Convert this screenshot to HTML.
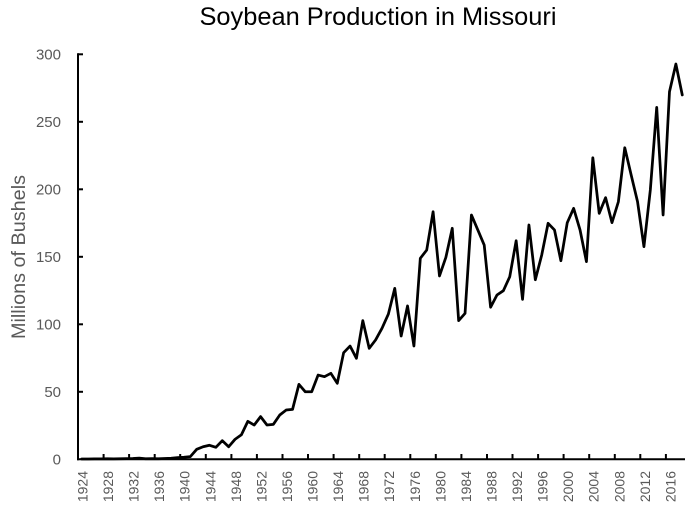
<!DOCTYPE html>
<html>
<head>
<meta charset="utf-8">
<style>
  html, body { margin: 0; padding: 0; background: #ffffff; }
  svg { display: block; }
  text { font-family: "Liberation Sans", "DejaVu Sans", sans-serif; }
</style>
</head>
<body>
<svg width="698" height="507" viewBox="0 0 698 507" xmlns="http://www.w3.org/2000/svg">
  <rect x="0" y="0" width="698" height="507" fill="#ffffff"/>

  <!-- Title -->
  <text x="378" y="25" font-size="25" fill="#000000" text-anchor="middle" textLength="357" lengthAdjust="spacingAndGlyphs">Soybean Production in Missouri</text>

  <!-- Y axis title -->
  <text transform="translate(25,257) rotate(-90)" font-size="19" fill="#595959" text-anchor="middle" textLength="164" lengthAdjust="spacingAndGlyphs">Millions of Bushels</text>

  <!-- Y tick labels -->
  <g font-size="15" fill="#595959" text-anchor="end">
    <text x="61" y="59.3">300</text>
    <text x="61" y="126.8">250</text>
    <text x="61" y="194.3">200</text>
    <text x="61" y="261.8">150</text>
    <text x="61" y="329.3">100</text>
    <text x="61" y="396.8">50</text>
    <text x="61" y="464.3">0</text>
  </g>

  <!-- Axes -->
  <g stroke="#000000" stroke-width="2" fill="none">
    <line x1="78" y1="53.3" x2="78" y2="460.3"/>
    <line x1="77" y1="459.3" x2="685" y2="459.3"/>
    <!-- y ticks -->
    <line x1="78" y1="54.3" x2="83" y2="54.3"/>
    <line x1="78" y1="121.8" x2="83" y2="121.8"/>
    <line x1="78" y1="189.3" x2="83" y2="189.3"/>
    <line x1="78" y1="256.8" x2="83" y2="256.8"/>
    <line x1="78" y1="324.3" x2="83" y2="324.3"/>
    <line x1="78" y1="391.8" x2="83" y2="391.8"/>
    <!-- x ticks -->
    <line x1="103.6" y1="459.3" x2="103.6" y2="454"/>
    <line x1="129.1" y1="459.3" x2="129.1" y2="454"/>
    <line x1="154.7" y1="459.3" x2="154.7" y2="454"/>
    <line x1="180.2" y1="459.3" x2="180.2" y2="454"/>
    <line x1="205.8" y1="459.3" x2="205.8" y2="454"/>
    <line x1="231.4" y1="459.3" x2="231.4" y2="454"/>
    <line x1="256.9" y1="459.3" x2="256.9" y2="454"/>
    <line x1="282.5" y1="459.3" x2="282.5" y2="454"/>
    <line x1="308.0" y1="459.3" x2="308.0" y2="454"/>
    <line x1="333.6" y1="459.3" x2="333.6" y2="454"/>
    <line x1="359.2" y1="459.3" x2="359.2" y2="454"/>
    <line x1="384.7" y1="459.3" x2="384.7" y2="454"/>
    <line x1="410.3" y1="459.3" x2="410.3" y2="454"/>
    <line x1="435.8" y1="459.3" x2="435.8" y2="454"/>
    <line x1="461.4" y1="459.3" x2="461.4" y2="454"/>
    <line x1="487.0" y1="459.3" x2="487.0" y2="454"/>
    <line x1="512.5" y1="459.3" x2="512.5" y2="454"/>
    <line x1="538.1" y1="459.3" x2="538.1" y2="454"/>
    <line x1="563.6" y1="459.3" x2="563.6" y2="454"/>
    <line x1="589.2" y1="459.3" x2="589.2" y2="454"/>
    <line x1="614.8" y1="459.3" x2="614.8" y2="454"/>
    <line x1="640.3" y1="459.3" x2="640.3" y2="454"/>
    <line x1="665.9" y1="459.3" x2="665.9" y2="454"/>
  </g>

  <!-- X tick labels -->
  <g font-size="14" fill="#595959" text-anchor="end">
    <text transform="translate(87.5,471) rotate(-90)">1924</text>
    <text transform="translate(113.1,471) rotate(-90)">1928</text>
    <text transform="translate(138.6,471) rotate(-90)">1932</text>
    <text transform="translate(164.2,471) rotate(-90)">1936</text>
    <text transform="translate(189.7,471) rotate(-90)">1940</text>
    <text transform="translate(215.3,471) rotate(-90)">1944</text>
    <text transform="translate(240.9,471) rotate(-90)">1948</text>
    <text transform="translate(266.4,471) rotate(-90)">1952</text>
    <text transform="translate(292.0,471) rotate(-90)">1956</text>
    <text transform="translate(317.5,471) rotate(-90)">1960</text>
    <text transform="translate(343.1,471) rotate(-90)">1964</text>
    <text transform="translate(368.7,471) rotate(-90)">1968</text>
    <text transform="translate(394.2,471) rotate(-90)">1972</text>
    <text transform="translate(419.8,471) rotate(-90)">1976</text>
    <text transform="translate(445.3,471) rotate(-90)">1980</text>
    <text transform="translate(470.9,471) rotate(-90)">1984</text>
    <text transform="translate(496.5,471) rotate(-90)">1988</text>
    <text transform="translate(522.0,471) rotate(-90)">1992</text>
    <text transform="translate(547.6,471) rotate(-90)">1996</text>
    <text transform="translate(573.1,471) rotate(-90)">2000</text>
    <text transform="translate(598.7,471) rotate(-90)">2004</text>
    <text transform="translate(624.3,471) rotate(-90)">2008</text>
    <text transform="translate(649.8,471) rotate(-90)">2012</text>
    <text transform="translate(675.4,471) rotate(-90)">2016</text>
  </g>

  <!-- Data series -->
  <g transform="translate(81.7,459.3) scale(6.389,-1.35)">
    <polyline fill="none" stroke="#000000" stroke-width="2.75" stroke-linejoin="round" stroke-linecap="round" vector-effect="non-scaling-stroke"
      points="0,0.2 1,0.2 2,0.3 3,0.3 4,0.4 5,0.3 6,0.4 7,0.5 8,0.6 9,0.9 10,0.4 11,0.5 12,0.4 13,0.6 14,0.8 15,1.2 16,1.5 17,2 18,7.4 19,9.3 20,10.4 21,8.9 22,13.8 23,9.3 24,14.8 25,18.2 26,28.1 27,25.4 28,31.6 29,25.4 30,25.9 31,32.8 32,36.5 33,37 34,55.5 35,50 36,50 37,62.4 38,61.2 39,63.7 40,56.3 41,79 42,83.9 43,74.8 44,102.7 45,82.2 46,88.4 47,97 48,107.6 49,126.6 50,91.3 51,113.6 52,83.9 53,148.9 54,155 55,183.4 56,135.8 57,149.6 58,171.1 59,102.7 60,108.1 61,181 62,169.9 63,158.7 64,112.6 65,121.7 66,124.9 67,135.3 68,161.9 69,118.5 70,173.6 71,133 72,151.3 73,174.8 74,169.9 75,147.1 76,175.3 77,185.9 78,169.9 79,146.4 80,223.4 81,182.2 82,193.8 83,175.3 84,190.8 85,230.8 86,210.6 87,190.8 88,157.5 89,199.5 90,260.7 91,181 92,272.3 93,292.8 94,269.9"/>
  </g>
</svg>
</body>
</html>
